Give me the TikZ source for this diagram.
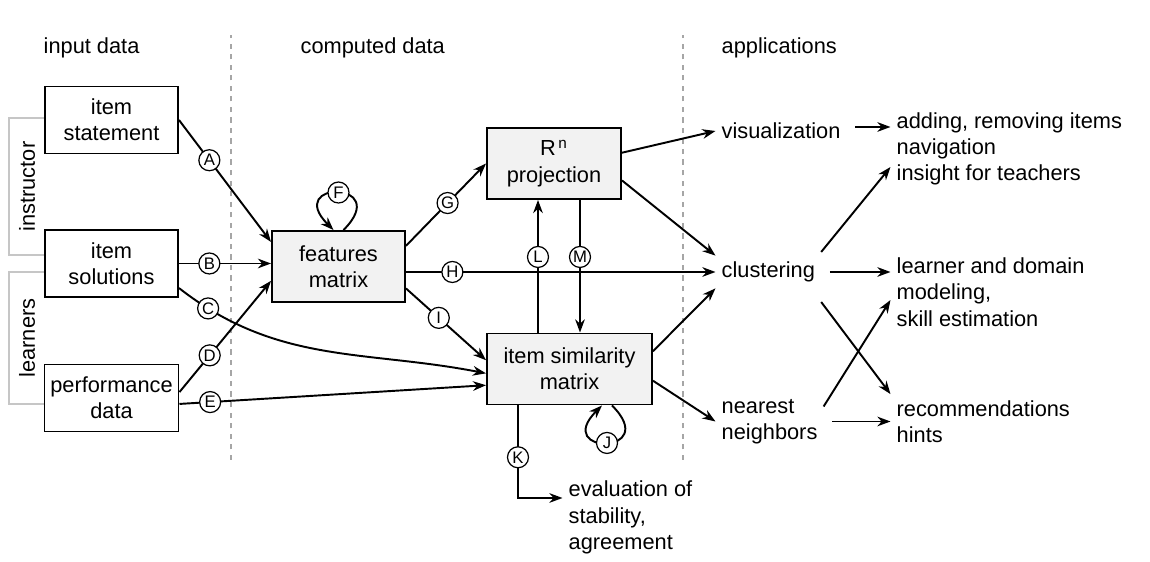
\documentclass[tikz,border=0pt]{standalone}
\usepackage{fontspec}
\setmainfont{Liberation Sans}
\usetikzlibrary{arrows.meta}

\begin{document}
\begin{tikzpicture}[
  font=\fontsize{12.4}{15}\selectfont,
  box/.style={draw, line width=1.1pt, align=center, minimum height=1.34cm},
  cbox/.style={box, fill=gray!10, minimum height=1.42cm},
  txt/.style={anchor=west, align=left},
  lbl/.style={circle, draw, fill=white, line width=0.7pt, inner sep=0pt, minimum size=0.42cm, font=\fontsize{9.5}{10}\selectfont},
  arr/.style={-{Stealth[length=7.5pt,width=5.5pt]}, line width=1.1pt},
  sep/.style={gray!70, line width=0.6pt, dash pattern=on 3pt off 3pt},
  brk/.style={gray!45, line width=1.2pt}
]
\useasboundingbox (0,0) rectangle (23,11.24);
%\draw[step=1cm,gray,very thin] (0,0) grid (23,11);
\draw[sep] (4.62,2.04) -- (4.62,10.54);
\draw[sep] (13.66,2.04) -- (13.66,10.54);
\node[txt] (hin) at (0.75,10.28) {input data};
\node[txt] (hcomp) at (5.89,10.28) {computed data};
\node[txt] (happ) at (14.31,10.28) {applications};

% sources
\draw[brk] (0.9,8.88) -- (0.18,8.88) -- (0.18,6.14) -- (0.9,6.14);
\draw[brk] (0.9,5.8) -- (0.18,5.8) -- (0.18,3.16) -- (0.9,3.16);
\node[rotate=90] (instr) at (0.54,7.51) {instructor};
\node[rotate=90] (lear) at (0.54,4.48) {learners};
\node[box, minimum width=2.66cm] (stmt) at (2.23,8.84) {item\\statement};
\node[box, minimum width=2.66cm] (sol) at (2.23,5.97) {item\\solutions};
\node[box, minimum width=2.66cm] (perf) at (2.23,3.28) {performance\\data};

% computed
\node[cbox, minimum width=2.66cm] (feat) at (6.77,5.91) {features\\matrix};
\node[cbox, minimum width=2.68cm] (proj) at (11.08,7.97) {R\textsuperscript{\,n}\\projection};
\node[cbox, minimum width=3.3cm] (sim) at (11.39,3.86) {item similarity\\matrix};
\node[txt] (ev) at (11.25,0.89) {evaluation of\\stability,\\agreement};

% applications
\node[txt] (vis) at (14.31,8.62) {visualization};
\node[txt] (clus) at (14.31,5.80) {clustering};
\node[txt] (nn) at (14.31,2.81) {nearest\\neighbors};
\node[txt] (add) at (17.81,8.26) {adding, removing items\\navigation\\insight for teachers};
\node[txt] (lrn) at (17.81,5.40) {learner and domain\\modeling,\\skill estimation};
\node[txt] (rec) at (17.81,2.81) {recommendations\\hints};

% labelled connectors
\draw[arr] (stmt.east) -- node[lbl, pos=0.33] (la) {A} (feat.160);
\draw[arr] (sol.east) -- node[lbl, pos=0.33] (lb) {B} (sol.east -| feat.west);
\draw[arr] (sol.-20) to[out=-38, in=169] node[lbl, pos=0.1] (lc) {C} (sim.183);
\draw[arr] (perf.5) -- node[lbl, pos=0.33] (ld) {D} (feat.192);
\draw[arr] (perf.-5) -- node[lbl, pos=0.1] (le) {E} (sim.191);
\draw[arr] ([xshift=0.1cm]feat.north) .. controls +(1,1) and +(-1,1) .. ([xshift=-0.1cm]feat.north) node[lbl, pos=0.5] (lf) {F};
\draw[arr] (feat.17) -- node[lbl, pos=0.52] (lg) {G} (proj.west);
\draw[arr] (feat.east |- clus.west) -- node[lbl, pos=0.15] (lh) {H} (clus.west);
\draw[arr] (feat.-18) -- node[lbl, pos=0.41] (li) {I} (sim.174);
\draw[arr] ([xshift=0.85cm]sim.south) .. controls +(1,-1) and +(-1,-1) .. ([xshift=0.65cm]sim.south) node[lbl, pos=0.5] (lj) {J};
\draw[arr] ([xshift=-1.03cm]sim.south) |- node[lbl, pos=0.28] (lk) {K} ([yshift=0.39cm]ev.west);
\draw[arr] ([xshift=-0.63cm]sim.north) -- node[lbl, pos=0.57] (ll) {L} ([xshift=-0.32cm]proj.south);
\draw[arr] ([xshift=0.52cm]proj.south) -- node[lbl, pos=0.43] (lm) {M} ([xshift=0.21cm]sim.north);

% to applications
\draw[arr] (proj.9) -- (vis.west);
\draw[arr] (proj.-14) -- (clus.north west);
\draw[arr] (sim.12) -- (clus.south west);
\draw[arr] (sim.-8) -- (nn.west);
\draw[arr, shorten <=5pt] ([yshift=0.08cm]vis.east) -- ([yshift=0.08cm]vis.east -| add.west);
\draw[arr] ([yshift=0.4cm]clus.east) -- ([yshift=-0.36cm]add.west);
\draw[arr, shorten <=5pt] (clus.east) -- (clus.east -| lrn.west);
\draw[arr] ([yshift=-0.6cm]clus.east) -- (rec.north west);
\draw[arr] ([yshift=0.3cm]nn.east) -- ([yshift=-0.16cm]lrn.west);
\draw[arr, shorten <=5pt] (nn.east) -- (nn.east -| rec.west);
\end{tikzpicture}
\end{document}
